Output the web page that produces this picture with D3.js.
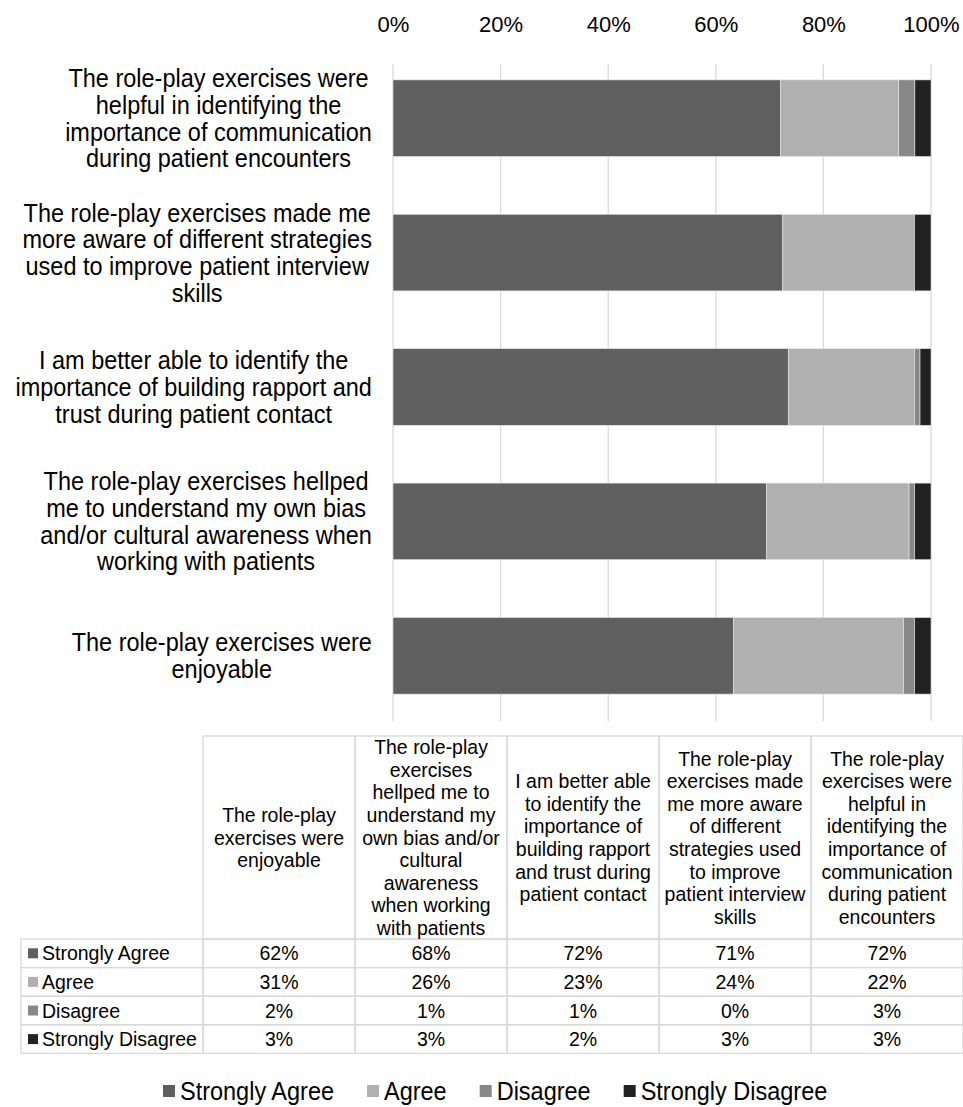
<!DOCTYPE html>
<html>
<head>
<meta charset="utf-8">
<script src="https://cdn.jsdelivr.net/npm/d3@7"></script>
<style>
  body { margin: 0; background: #fff; }
  text { font-family: "Liberation Sans", Arial, sans-serif; fill: #000; }
</style>
</head>
<body>
<script>
// categories in table order (left to right); chart shows them bottom to top
var categories = ["enjoyable", "bias", "rapport", "strategies", "communication"];
var axisLabels = [
  ["The role-play exercises were", "enjoyable"],
  ["The role-play exercises hellped", "me to understand my own bias", "and/or cultural awareness when", "working with patients"],
  ["I am better able to identify the", "importance of building rapport and", "trust during patient contact"],
  ["The role-play exercises made me", "more aware of different strategies", "used to improve patient interview", "skills"],
  ["The role-play exercises were", "helpful in identifying the", "importance of communication", "during patient encounters"]
];
var headerLabels = [
  ["The role-play", "exercises were", "enjoyable"],
  ["The role-play", "exercises", "hellped me to", "understand my", "own bias and/or", "cultural", "awareness", "when working", "with patients"],
  ["I am better able", "to identify the", "importance of", "building rapport", "and trust during", "patient contact"],
  ["The role-play", "exercises made", "me more aware", "of different", "strategies used", "to improve", "patient interview", "skills"],
  ["The role-play", "exercises were", "helpful in", "identifying the", "importance of", "communication", "during patient", "encounters"]
];
var seriesNames = ["Strongly Agree", "Agree", "Disagree", "Strongly Disagree"];
var stronglyAgree = [62, 68, 72, 71, 72];
var agree = [31, 26, 23, 24, 22];
var disagree = [2, 1, 1, 0, 3];
var stronglyDisagree = [3, 3, 2, 3, 3];
var xTicks = [0, 0.2, 0.4, 0.6, 0.8, 1];
var colors = ["#5f5f5f", "#b0b0b0", "#888888", "#222222"];

var W = 963, H = 1107;
var svg = d3.select("body").append("svg").attr("width", W).attr("height", H);

var rows = categories.map(function(c, i) {
  return {cat: c, "Strongly Agree": stronglyAgree[i], "Agree": agree[i],
          "Disagree": disagree[i], "Strongly Disagree": stronglyDisagree[i]};
});
var stacked = d3.stack().keys(seriesNames).offset(d3.stackOffsetExpand)(rows);

var x = d3.scaleLinear().domain([0, 1]).range([393, 931]);
var y = d3.scaleBand()
  .domain(categories.slice().reverse())
  .range([51, 723])
  .paddingInner(0.43).paddingOuter(0.215);

// gridlines
svg.append("g").selectAll("line").data(xTicks).enter().append("line")
  .attr("x1", function(d) { return x(d); }).attr("x2", function(d) { return x(d); })
  .attr("y1", 64).attr("y2", 721)
  .attr("stroke", "#d9d9d9").attr("stroke-width", 1.3);

// top axis
var xAxis = svg.append("g").attr("transform", "translate(0,32)")
  .call(d3.axisTop(x).tickValues(xTicks).tickFormat(d3.format(".0%")).tickSize(0).tickPadding(0));
xAxis.select(".domain").remove();
xAxis.selectAll("text").style("font-size", "22px").attr("font-family", null).attr("fill", "#000");

// bars
svg.append("g").selectAll("g").data(stacked).enter().append("g")
  .attr("fill", function(d, i) { return colors[i]; })
  .selectAll("rect").data(function(d) { return d; }).enter().append("rect")
  .attr("x", function(d) { return x(d[0]); })
  .attr("width", function(d) { return x(d[1]) - x(d[0]); })
  .attr("y", function(d) { return y(d.data.cat); })
  .attr("height", y.bandwidth())
  .attr("stroke", "#e6e6e6").attr("stroke-width", 0.6);

// category labels: lines centred within a block that ends at the label area edge
var sy = 1.1;
svg.append("g").selectAll("text").data(categories).enter().append("text")
  .attr("text-anchor", "middle")
  .style("font-size", "23.5px")
  .each(function(c, i) {
    var lines = axisLabels[i];
    var cy = y(c) + y.bandwidth() / 2;
    var lh = 26.7;
    var t = d3.select(this);
    var sp = t.selectAll("tspan").data(lines).enter().append("tspan")
      .attr("x", 0)
      .attr("y", function(d, j) { return (j - (lines.length - 1) / 2) * lh / sy; })
      .attr("dy", "0.35em")
      .text(function(d) { return d; });
    var widest = d3.max(sp.nodes(), function(n) { return n.getComputedTextLength(); });
    var cx = Math.max(372 - widest / 2, widest / 2 + 4);
    t.attr("transform", "translate(" + cx + "," + cy + ") scale(1," + sy + ")");
  });

// data table
var tbl = svg.append("g");
var colX = d3.scaleBand().domain(categories).range([203, 963]);
var tTop = 736, hBottom = 939, rowH = 28.6;
var rowY = d3.scaleBand().domain(seriesNames).range([hBottom, hBottom + rowH * 4]);
var border = "#d9d9d9";
var tsy = 1.05;

tbl.selectAll("rect.h").data(categories).enter().append("rect")
  .attr("x", function(d) { return colX(d); }).attr("y", tTop)
  .attr("width", colX.bandwidth()).attr("height", hBottom - tTop)
  .attr("fill", "none").attr("stroke", border).attr("stroke-width", 1.3);
seriesNames.forEach(function(s) {
  tbl.append("rect").attr("x", 21).attr("y", rowY(s))
    .attr("width", 203 - 21).attr("height", rowY.bandwidth())
    .attr("fill", "none").attr("stroke", border).attr("stroke-width", 1.3);
  tbl.selectAll(null).data(categories).enter().append("rect")
    .attr("x", function(d) { return colX(d); }).attr("y", rowY(s))
    .attr("width", colX.bandwidth()).attr("height", rowY.bandwidth())
    .attr("fill", "none").attr("stroke", border).attr("stroke-width", 1.3);
});

// header text
tbl.selectAll("text.h").data(categories).enter().append("text")
  .attr("text-anchor", "middle").style("font-size", "19.5px")
  .attr("transform", function(c) {
    return "translate(" + (colX(c) + colX.bandwidth() / 2) + "," + ((tTop + hBottom) / 2) + ") scale(1," + tsy + ")";
  })
  .each(function(c, i) {
    var lines = headerLabels[i];
    var lh = 22.6;
    d3.select(this).selectAll("tspan").data(lines).enter().append("tspan")
      .attr("x", 0)
      .attr("y", function(d, j) { return (j - (lines.length - 1) / 2) * lh / tsy; })
      .attr("dy", "0.35em")
      .text(function(d) { return d; });
  });

// row labels with keys
seriesNames.forEach(function(s, k) {
  var cy = rowY(s) + rowY.bandwidth() / 2;
  tbl.append("rect").attr("x", 28).attr("y", cy - 5).attr("width", 10).attr("height", 10)
    .attr("fill", colors[k]);
  tbl.append("text").attr("transform", "translate(42," + cy + ") scale(1," + tsy + ")")
    .attr("dy", "0.35em").style("font-size", "19.5px").text(s);
});

// row values
var values = [stronglyAgree, agree, disagree, stronglyDisagree];
seriesNames.forEach(function(s, k) {
  var cy = rowY(s) + rowY.bandwidth() / 2;
  tbl.selectAll(null).data(categories).enter().append("text")
    .attr("transform", function(d) {
      return "translate(" + (colX(d) + colX.bandwidth() / 2) + "," + cy + ") scale(1," + tsy + ")";
    })
    .attr("dy", "0.35em")
    .attr("text-anchor", "middle").style("font-size", "19.5px")
    .text(function(d, i) { return values[k][i] + "%"; });
});

// legend
var legend = svg.append("g");
var lx = 163, ly = 1091;
seriesNames.forEach(function(s, k) {
  var g = legend.append("g").attr("transform", "translate(" + lx + "," + ly + ")");
  g.append("rect").attr("x", 0).attr("y", -6).attr("width", 12).attr("height", 12).attr("fill", colors[k]);
  var t = g.append("text").attr("x", 17).attr("dy", "0.35em")
    .attr("transform", "scale(1,1.08)")
    .style("font-size", "23.5px").text(s);
  lx += 17 + t.node().getComputedTextLength() + 33;
});
</script>
</body>
</html>
